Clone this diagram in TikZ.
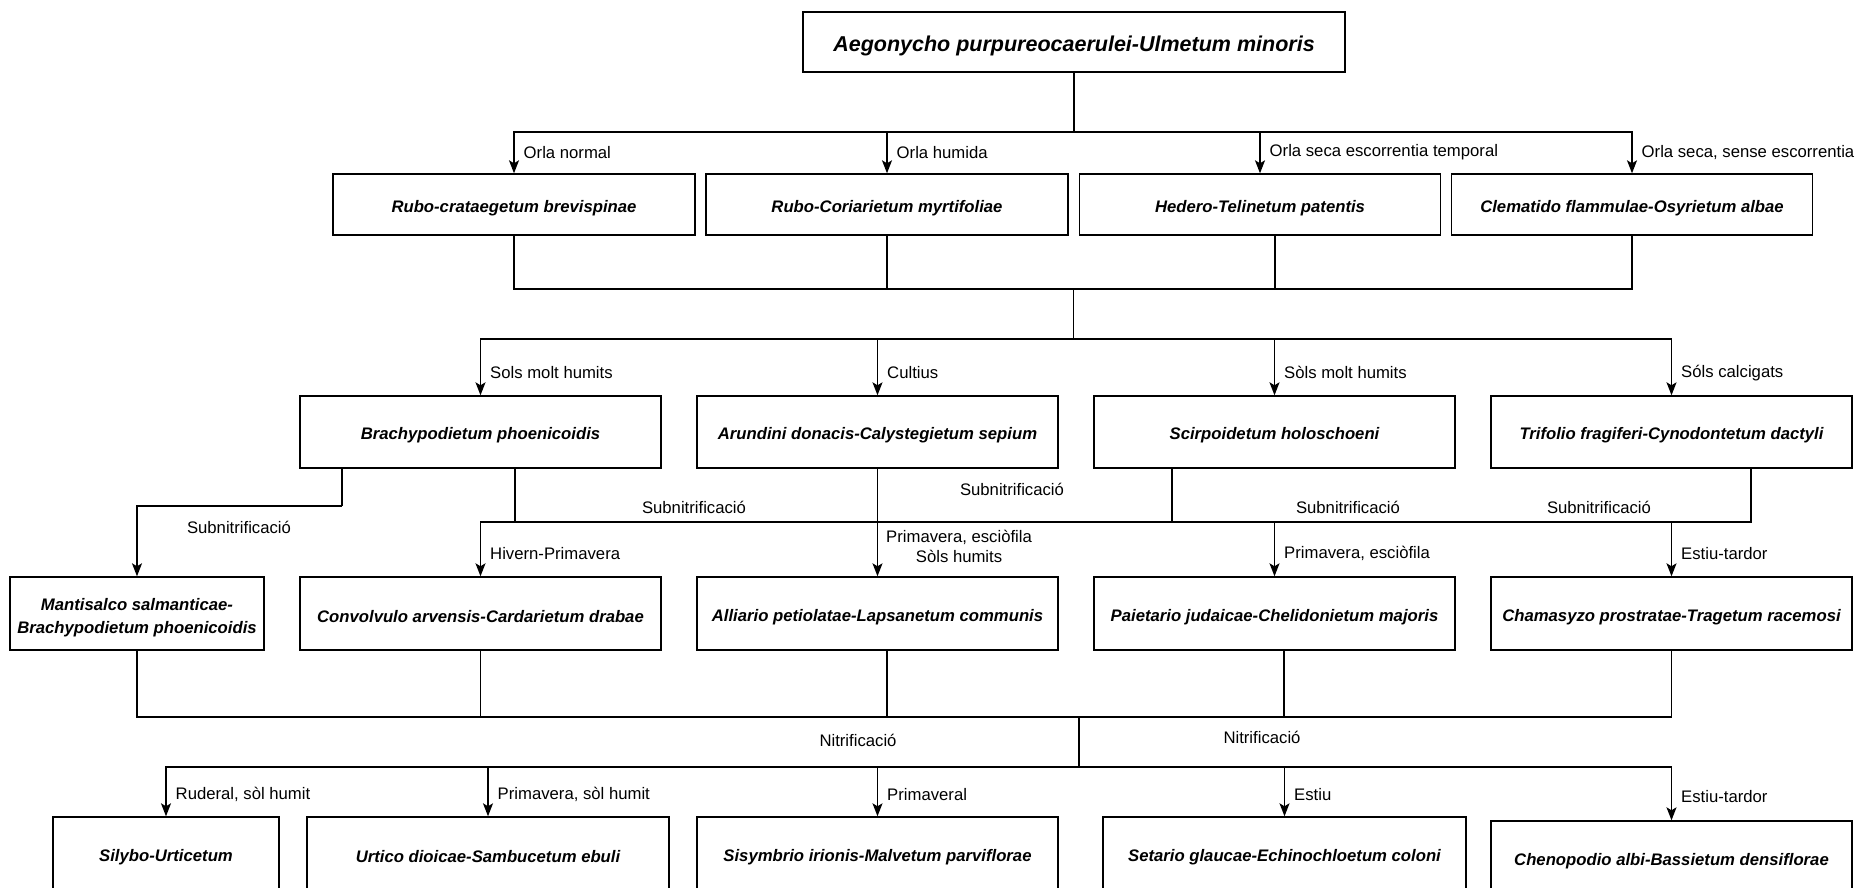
\documentclass[tikz,border=0pt]{standalone}
\usepackage{fontspec}
\setmainfont{Liberation Sans}
\usetikzlibrary{arrows.meta,calc}
\newcommand{\lowtxt}[2]{\raisebox{-#1}[\height][\depth]{#2}}
\newcommand{\bx}[1]{\lowtxt{3.5pt}{#1}}
\tikzset{
  box/.style={draw, line width=1.4pt, rectangle, inner sep=0pt, align=center,
    font=\fontsize{16.7}{22.5}\selectfont\bfseries\itshape},
  conn/.style={line width=1.4pt},
  arr/.style={line width=1.4pt, -{Stealth[length=13pt,width=10pt,inset=3pt]}},
  lab/.style={font=\fontsize{16.7}{22.5}\selectfont, inner sep=0pt, align=center},
}
\begin{document}
\begin{tikzpicture}[x=1pt,y=-1pt]
\useasboundingbox (0,0) rectangle (1861,887);
\clip (0,0) rectangle (1861,887);
\fill[white] (0,0) rectangle (1861,887);

% top
\node[box, minimum width=542pt, minimum height=60pt, font=\fontsize{21.5}{26}\selectfont\bfseries\itshape] (T) at (1074,42) {\lowtxt{4pt}{Aegonycho purpureocaerulei-Ulmetum minoris}};

% level 1
\node[box, minimum width=362pt, minimum height=61pt] (A1) at (514,204.5) {\bx{Rubo-crataegetum brevispinae}};
\node[box, minimum width=362pt, minimum height=61pt] (A2) at (887,204.5) {\bx{Rubo-Coriarietum myrtifoliae}};
\node[box, minimum width=361pt, minimum height=61pt] (A3) at (1260,204.5) {\bx{Hedero-Telinetum patentis}};
\node[box, minimum width=361pt, minimum height=61pt] (A4) at (1632,204.5) {\bx{Clematido flammulae-Osyrietum albae}};

% level 2
\node[box, minimum width=361pt, minimum height=72pt] (B1) at (480.5,432) {\bx{Brachypodietum phoenicoidis}};
\node[box, minimum width=361pt, minimum height=72pt] (B2) at (877.5,432) {\bx{Arundini donacis-Calystegietum sepium}};
\node[box, minimum width=361pt, minimum height=72pt] (B3) at (1274.5,432) {\bx{Scirpoidetum holoschoeni}};
\node[box, minimum width=361pt, minimum height=72pt] (B4) at (1671.5,432) {\bx{Trifolio fragiferi-Cynodontetum dactyli}};

% level 3
\node[box, minimum width=254pt, minimum height=73pt] (C0) at (137,613.5) {\lowtxt{4pt}{\begin{tabular}{@{}c@{}}Mantisalco salmanticae-\\Brachypodietum phoenicoidis\end{tabular}}};
\node[box, minimum width=361pt, minimum height=73pt] (C1) at (480.5,613.5) {\bx{Convolvulo arvensis-Cardarietum drabae}};
\node[box, minimum width=361pt, minimum height=73pt] (C2) at (877.5,613.5) {\bx{Alliario petiolatae-Lapsanetum communis}};
\node[box, minimum width=361pt, minimum height=73pt] (C3) at (1274.5,613.5) {\bx{Paietario judaicae-Chelidonietum majoris}};
\node[box, minimum width=361pt, minimum height=73pt] (C4) at (1671.5,613.5) {\bx{Chamasyzo prostratae-Tragetum racemosi}};

% level 4
\node[box, minimum width=226pt, minimum height=73pt] (D0) at (166,853.5) {\bx{Silybo-Urticetum}};
\node[box, minimum width=362pt, minimum height=73pt] (D1) at (488,853.5) {\bx{Urtico dioicae-Sambucetum ebuli}};
\node[box, minimum width=361pt, minimum height=73pt] (D2) at (877.5,853.5) {\bx{Sisymbrio irionis-Malvetum parviflorae}};
\node[box, minimum width=363pt, minimum height=73pt] (D3) at (1284.5,853.5) {\bx{Setario glaucae-Echinochloetum coloni}};
\node[box, minimum width=361pt, minimum height=73pt] (D4) at (1671.5,857.5) {\bx{Chenopodio albi-Bassietum densiflorae}};

% junctions
\coordinate (j1) at (1074,132);
\coordinate (j2) at (1073.5,289);
\coordinate (j3) at (1073.5,339);
\coordinate (k1) at (342,506);
\coordinate (h3) at (878,522);
\coordinate (j4) at (1079,717);
\coordinate (j5) at (1079,767);

% top -> level 1
\draw[conn] (T.south) -- (j1);
\draw[arr] (j1) -| (A1.north) node[lab, pos=0.75, anchor=west, xshift=9pt] {Orla normal};
\draw[arr] (j1) -| (A2.north) node[lab, pos=0.75, anchor=west, xshift=9pt] {Orla humida};
\draw[arr] (j1) -| (A3.north) node[lab, pos=0.75, anchor=west, xshift=9pt] {Orla seca escorrentia temporal};
\draw[arr] (j1) -| (A4.north) node[lab, pos=0.75, anchor=west, xshift=9pt] {Orla seca, sense escorrentia};

% level 1 -> hub
\draw[conn] (A1.south) |- (j2);
\draw[conn] (A2.south) |- (j2);
\draw[conn] ($(A3.south)+(15,0)$) |- (j2);
\draw[conn] (A4.south) |- (j2);
\draw[conn] (j2) -- (j3);

% hub -> level 2
\draw[arr] (j3) -| (B1.north) node[lab, pos=0.8, anchor=west, xshift=9pt] {Sols molt humits};
\draw[arr] (j3) -| (B2.north) node[lab, pos=0.8, anchor=west, xshift=9pt] {Cultius};
\draw[arr] (j3) -| (B3.north) node[lab, pos=0.8, anchor=west, xshift=9pt] {Sòls molt humits};
\draw[arr] (j3) -| (B4.north) node[lab, pos=0.8, anchor=west, xshift=9pt] {Sóls calcigats};

% level 2 -> level 3
\draw[conn] ($(B1.south)+(-138.5,0)$) -- (k1);
\draw[arr] (k1) -| (C0.north);
\node[lab] (s1) at (239,527) {Subnitrificació};

\draw[conn] ($(B1.south)+(34.5,0)$) |- (h3);
\draw[conn] ($(B3.south)+(-102.5,0)$) |- (h3);
\draw[conn] ($(B4.south)+(79.5,0)$) |- (h3);
\draw[arr] (B2.south) -- (C2.north);
\draw[arr] (h3) -| (C1.north) node[lab, pos=0.79, anchor=west, xshift=9pt] {Hivern-Primavera};
\draw[arr] (h3) -| (C3.north) node[lab, pos=0.79, anchor=west, xshift=9pt] {Primavera, esciòfila};
\draw[arr] (h3) -| (C4.north) node[lab, pos=0.79, anchor=west, xshift=9pt] {Estiu-tardor};
\node[lab, anchor=west, font=\fontsize{16.7}{20}\selectfont] (l2) at (886,546) {Primavera, esciòfila\\Sòls humits};
\node[lab] (s2) at (694,507) {Subnitrificació};
\node[lab] (s3) at (1012,489) {Subnitrificació};
\node[lab] (s4) at (1348,507) {Subnitrificació};
\node[lab] (s5) at (1599,507) {Subnitrificació};

% level 3 -> hub
\draw[conn] (C0.south) |- (j4);
\draw[conn] (C1.south) |- (j4);
\draw[conn] ($(C2.south)+(9.5,0)$) |- (j4);
\draw[conn] ($(C3.south)+(9.5,0)$) |- (j4);
\draw[conn] (C4.south) |- (j4);
\draw[conn] (j4) -- (j5);
\node[lab] (n1) at (858,740) {Nitrificació};
\node[lab] (n2) at (1262,737) {Nitrificació};

% hub -> level 4
\draw[arr] (j5) -| (D0.north) node[lab, pos=0.78, anchor=west, xshift=9pt] {Ruderal, sòl humit};
\draw[arr] (j5) -| (D1.north) node[lab, pos=0.78, anchor=west, xshift=9pt] {Primavera, sòl humit};
\draw[arr] (j5) -| (D2.north) node[lab, pos=0.78, anchor=west, xshift=9pt] {Primaveral};
\draw[arr] (j5) -| (D3.north) node[lab, pos=0.78, anchor=west, xshift=9pt] {Estiu};
\draw[arr] (j5) -| (D4.north) node[lab, pos=0.78, anchor=west, xshift=9pt] {Estiu-tardor};
\end{tikzpicture}
\end{document}
